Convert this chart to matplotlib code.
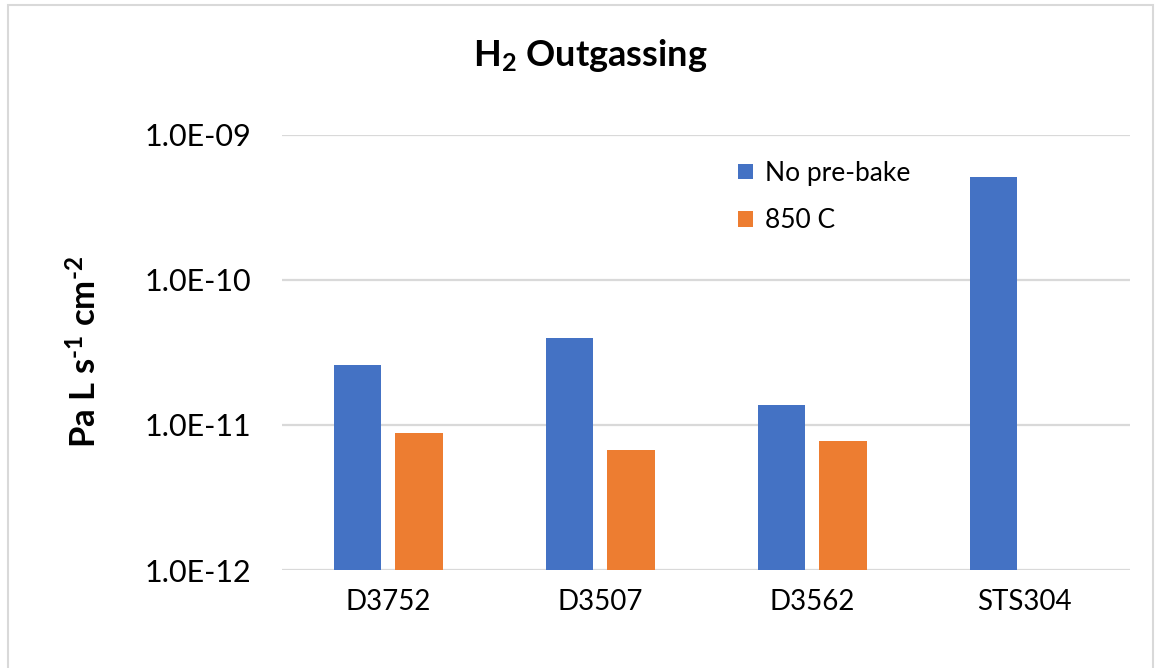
import matplotlib
matplotlib.use("Agg")
import matplotlib.pyplot as plt
from matplotlib.patches import Rectangle
import numpy as np

# data
samples = ["D3752", "D3507", "D3562", "STS304"]
no_prebake = [2.6e-11, 4.0e-11, 1.37e-11, 5.1e-10]
bake_850 = [8.8e-12, 6.7e-12, 7.8e-12, np.nan]
yticks = [1e-12, 1e-11, 1e-10, 1e-9]
ytick_labels = ["1.0E-12", "1.0E-11", "1.0E-10", "1.0E-09"]

blue = "#4472C4"
orange = "#ED7D31"

plt.rcParams["font.family"] = ["Lato", "DejaVu Sans"]
plt.rcParams["mathtext.fontset"] = "custom"
plt.rcParams["mathtext.rm"] = "Lato:bold"
plt.rcParams["mathtext.bf"] = "Lato:bold"
plt.rcParams["mathtext.it"] = "Lato:bold"

fig = plt.figure(figsize=(11.62, 6.68), dpi=100)
ax = fig.add_axes([0.2427, 0.1467, 0.7298, 0.6513])

x = np.arange(len(samples))
w = 0.226
off = 0.144
ax.bar(x - off, no_prebake, w, color=blue, label="No pre-bake", zorder=3)
ax.bar(x + off, bake_850, w, color=orange, label="850 C", zorder=3)

ax.set_yscale("log")
ax.set_ylim(1e-12, 1e-9)
ax.set_xlim(-0.5, len(samples) - 0.5)
ax.set_yticks(yticks)
ax.set_yticklabels(ytick_labels)
ax.minorticks_off()
ax.set_xticks(x)
ax.set_xticklabels(samples)
ax.tick_params(axis="both", length=0, labelsize=20, colors="#000000")
ax.tick_params(axis="y", labelsize=22, pad=22)
ax.tick_params(axis="x", pad=14)
ax.grid(axis="y", color="#D9D9D9", linewidth=1.6, zorder=0)
for s in ax.spines.values():
    s.set_visible(False)

fig.text(590 / 1162, 1 - 55 / 668, r"H$_{2}$ Outgassing", fontsize=26,
         fontweight="bold", ha="center", va="center")
fig.text(85 / 1162, 1 - 352 / 668, r"Pa L s$^{\text{-1}}$ cm$^{\text{-2}}$",
         fontsize=25, fontweight="bold", rotation=90, ha="center", va="center")

ax.legend(loc="upper left", bbox_to_anchor=(0.51, 0.995), frameon=False,
          fontsize=19, labelspacing=0.85, handlelength=0.55, handleheight=0.55,
          handletextpad=0.45)

# light frame around the chart
fig.patches.append(Rectangle((8 / 1162, -0.01), 1145 / 1162, 1 - 5 / 668 + 0.01,
                             transform=fig.transFigure, fill=False,
                             edgecolor="#D9D9D9", linewidth=1.5))

fig.savefig("out.png", dpi=100)
